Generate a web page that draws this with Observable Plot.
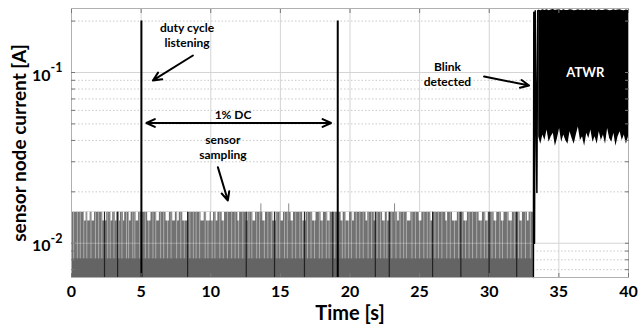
<!DOCTYPE html>
<html><head><meta charset="utf-8">
<script src="https://cdn.jsdelivr.net/npm/d3@7"></script>
<script src="https://cdn.jsdelivr.net/npm/@observablehq/plot@0.6"></script>
<style>body{margin:0;background:#fff;}</style>
</head><body><div id="chart"></div>
<script>
// ---- data ----
const xTicks = [0, 5, 10, 15, 20, 25, 30, 35, 40];
const yMajor = [0.01, 0.1];
const yMinor = [0.007, 0.008, 0.009, 0.02, 0.03, 0.04, 0.05, 0.06, 0.07, 0.08, 0.09, 0.2];
const yTickBase = ["10", "10"];
const yTickExp = ["-2", "-1"];
const xTitle = "Time [s]";
const yTitle = "sensor node current [A]";

// sensor sampling region (current levels, A)
const samplingStart = 0, samplingEnd = 33.17;
const floorI = 0.0063, bandTop = 0.0081, lowTop = 0.0135, highTop = 0.0152;
const notchStart = [0.93,1.17,1.48,2.25,2.84,3.15,3.44,3.73,4.16,4.64,5.47,6.12,6.79,7.27,7.62,7.99,9.30,9.70,10.04,10.39,10.82,11.95,12.55,13.03,13.74,14.46,15.05,15.77,16.61,17.32,17.92,18.40,19.36,19.72,20.19,21.15,21.74,22.34,22.70,23.42,24.13,24.97,25.81,26.88,27.36,28.19,29.27,29.75,30.35,30.87,31.42,32.21,32.74];
const notchEnd = [1.05,1.34,1.65,2.53,2.96,3.25,3.51,3.82,4.28,4.82,5.71,6.31,7.03,7.46,7.74,8.41,9.53,9.96,10.20,10.51,10.99,12.07,12.67,13.22,13.93,14.70,15.22,15.94,16.85,17.56,18.09,18.57,19.50,19.96,20.31,21.27,21.91,22.53,22.82,23.54,24.37,25.16,25.97,27.00,27.71,28.43,29.51,29.92,30.54,31.06,31.66,32.38,32.86];
const gapT = [0.15,0.42,0.63,0.88,1.1,1.4,1.72,1.95,2.18,2.6,2.78,3.05,3.4,3.62,3.95,4.1,4.4,4.55,4.9,5.3,5.55,5.85,6.05,6.4,6.62,6.9,7.15,7.55,7.85,8.1,8.5,8.75,8.95,9.2,9.6,9.8,10.1,10.3,10.65,10.9,11.2,11.5,11.75,12.0,12.3,12.75,12.95,13.3,13.5,13.85,14.1,14.35,14.75,14.95,15.3,15.5,15.85,16.1,16.4,16.6,16.95,17.2,17.45,17.8,18.0,18.3,18.5,18.9,19.45,19.65,19.9,20.1,20.45,20.7,20.95,21.3,21.55,21.95,22.2,22.45,22.65,23.0,23.3,23.6,23.85,24.05,24.45,24.7,25.0,25.3,25.55,25.75,26.1,26.35,26.6,26.95,27.2,27.5,27.8,28.05,28.3,28.55,28.8,29.1,29.4,29.65,29.85,30.2,30.45,30.75,30.95,31.3,31.55,31.8,32.1,32.3,32.6,32.95];
const darkT = [2.37,3.31,8.34,12.55,14.58,16.73,18.76,21.82,22.82,25.93,27.96,29.99,31.97];
const smallSpikeT = [13.6, 15.6, 23.2];
const smallSpikeI = 0.017;

// duty cycle listening spikes
const listenT = [5.02, 19.12];
const listenPeak = 0.2;

// blink detection transient
const blinkT = [33.17, 33.2, 33.25, 33.3, 33.42, 33.48, 33.55];
const blinkI = [0.0063, 0.225, 0.01, 0.23, 0.0198, 0.23, 0.23];

// ATWR envelope
const atwrT = [33.55,33.7,33.85,34.0,34.15,34.3,34.45,34.6,34.75,34.9,35.05,35.2,35.35,35.5,35.65,35.8,35.95,36.1,36.25,36.4,36.55,36.7,36.85,37.0,37.15,37.3,37.45,37.6,37.75,37.9,38.05,38.2,38.35,38.5,38.65,38.8,38.95,39.1,39.25,39.4,39.55,39.7,39.85,40.0];
const atwrLow = [0.042,0.038,0.043,0.040,0.046,0.039,0.042,0.044,0.037,0.041,0.047,0.039,0.043,0.040,0.038,0.045,0.041,0.038,0.043,0.048,0.040,0.042,0.037,0.044,0.041,0.046,0.039,0.042,0.038,0.045,0.040,0.043,0.038,0.047,0.041,0.039,0.044,0.037,0.042,0.045,0.040,0.043,0.038,0.042];
const atwrHigh = [0.232,0.230,0.233,0.231,0.233,0.230,0.232,0.234,0.231,0.232,0.233,0.230,0.233,0.231,0.231,0.233,0.232,0.230,0.231,0.233,0.231,0.232,0.230,0.233,0.231,0.233,0.231,0.232,0.230,0.233,0.231,0.231,0.233,0.232,0.230,0.231,0.233,0.231,0.232,0.233,0.231,0.230,0.232,0.231];

// annotations
const labelText = ["duty cycle", "listening", "1% DC", "sensor", "sampling", "Blink", "detected"];
const labelT = [8.3, 8.3, 11.6, 10.87, 10.87, 27.0, 27.0];
const labelI = [0.181, 0.148, 0.0561, 0.040, 0.0327, 0.107, 0.0874];
const arrowT1 = [8.72, 10.51, 29.63, 12.0, 12.0];
const arrowI1 = [0.1257, 0.0279, 0.0947, 0.0506, 0.0506];
const arrowT2 = [5.85, 11.23, 32.86, 5.38, 18.64];
const arrowI2 = [0.0898, 0.0178, 0.0839, 0.0506, 0.0506];
const atwrLabel = {text: "ATWR", t: 36.9, i: 0.099};

// ---- build ----
const notches = notchStart.map((s, k) => ({s, e: notchEnd[k]}));
const blink = blinkT.map((t, k) => ({t, i: blinkI[k]}));
const atwr = atwrT.map((t, k) => ({t, lo: atwrLow[k], hi: atwrHigh[k]}));
const labels = labelText.map((text, k) => ({text, t: labelT[k], i: labelI[k]}));
const arrows = arrowT1.map((t1, k) => ({t1, i1: arrowI1[k], t2: arrowT2[k], i2: arrowI2[k]}));
const yTicks = yMajor.map((v, k) => ({v, base: yTickBase[k], exp: yTickExp[k]}));

const chart = Plot.plot({
  width: 638, height: 329,
  marginLeft: 71, marginRight: 10, marginTop: 8, marginBottom: 52,
  style: {fontFamily: "Lato", fontWeight: "bold", fontSize: "16px", background: "white"},
  x: {domain: [0, 40]},
  y: {type: "log", domain: [0.0063, 0.237]},
  marks: [
    Plot.gridX(xTicks.slice(1, -1), {stroke: "#d4d4d4", strokeOpacity: 1}),
    Plot.gridY(yMinor, {stroke: "#c8c8c8", strokeOpacity: 1, strokeDasharray: "1.5,2"}),
    Plot.gridY(yMajor, {stroke: "#d4d4d4", strokeOpacity: 1}),
    // sampling bars
    Plot.rect([{s: samplingStart, e: samplingEnd}], {x1: "s", x2: "e", y1: floorI, y2: highTop, fill: "#727272"}),
    Plot.rect([{s: samplingStart, e: samplingEnd}], {x1: "s", x2: "e", y1: floorI, y2: bandTop, fill: "black", fillOpacity: 0.12}),
    Plot.ruleX(gapT, {y1: bandTop, y2: highTop, stroke: "#ababab", strokeWidth: 1}),
    Plot.rect(notches, {x1: "s", x2: "e", y1: lowTop, y2: highTop, fill: "white"}),
    Plot.ruleX(darkT, {y1: floorI, y2: highTop, stroke: "#222", strokeWidth: 1.2}),
    Plot.ruleX(smallSpikeT, {y1: lowTop, y2: smallSpikeI, stroke: "#888", strokeWidth: 1}),
    Plot.ruleY([yMajor[0]], {x1: samplingStart, x2: samplingEnd, stroke: "#ffffff", strokeOpacity: 0.3}),
    // listening spikes
    Plot.ruleX(listenT, {y1: floorI, y2: listenPeak, stroke: "black", strokeWidth: 2}),
    // blink + ATWR
    Plot.line(blink, {x: "t", y: "i", stroke: "black", strokeWidth: 1.5}),
    Plot.areaY(atwr, {x: "t", y1: "lo", y2: "hi", fill: "black"}),
    Plot.frame({stroke: "#b0b0b0"}),
    // inward ticks
    Plot.axisX(xTicks, {anchor: "bottom", tickSize: -4, tickFormat: () => "", stroke: "#777", label: null}),
    Plot.axisX(xTicks, {anchor: "top", tickSize: -4, tickFormat: () => "", stroke: "#777", label: null}),
    Plot.axisY(yMajor.concat(yMinor), {anchor: "right", tickSize: -4, tickFormat: () => "", stroke: "#777", label: null}),
    Plot.axisY(yMajor.concat(yMinor), {anchor: "left", tickSize: -4, tickFormat: () => "", stroke: "#777",
      label: yTitle, labelAnchor: "center", labelOffset: 59, labelArrow: "none", fontSize: 19, fontWeight: "bold"}),
    // tick labels
    Plot.axisX(xTicks, {anchor: "bottom", tickSize: 0, tickPadding: 8, fontSize: 16, fontWeight: "bold", label: null}),
    Plot.text(yTicks, {y: "v", text: "base", frameAnchor: "left", dx: -21, dy: 3, textAnchor: "end", fontSize: 16, fontWeight: "bold"}),
    Plot.text(yTicks, {y: "v", text: "exp", frameAnchor: "left", dx: -21, dy: -4, textAnchor: "start", fontSize: 12.5, fontWeight: "bold"}),
    // x title
    Plot.text([xTitle], {frameAnchor: "bottom", dy: 42, fontSize: 20, fontWeight: "bold"}),
    // annotations
    Plot.text(labels, {x: "t", y: "i", text: "text", fontSize: 12, fontWeight: "bold", fill: "black"}),
    Plot.arrow(arrows, {x1: "t1", y1: "i1", x2: "t2", y2: "i2", stroke: "black", strokeWidth: 2, headLength: 7, headAngle: 50}),
    Plot.text([atwrLabel], {x: "t", y: "i", text: "text", fill: "white", fontSize: 13, fontWeight: "bold"})
  ]
});
document.getElementById("chart").appendChild(chart);
</script></body></html>
